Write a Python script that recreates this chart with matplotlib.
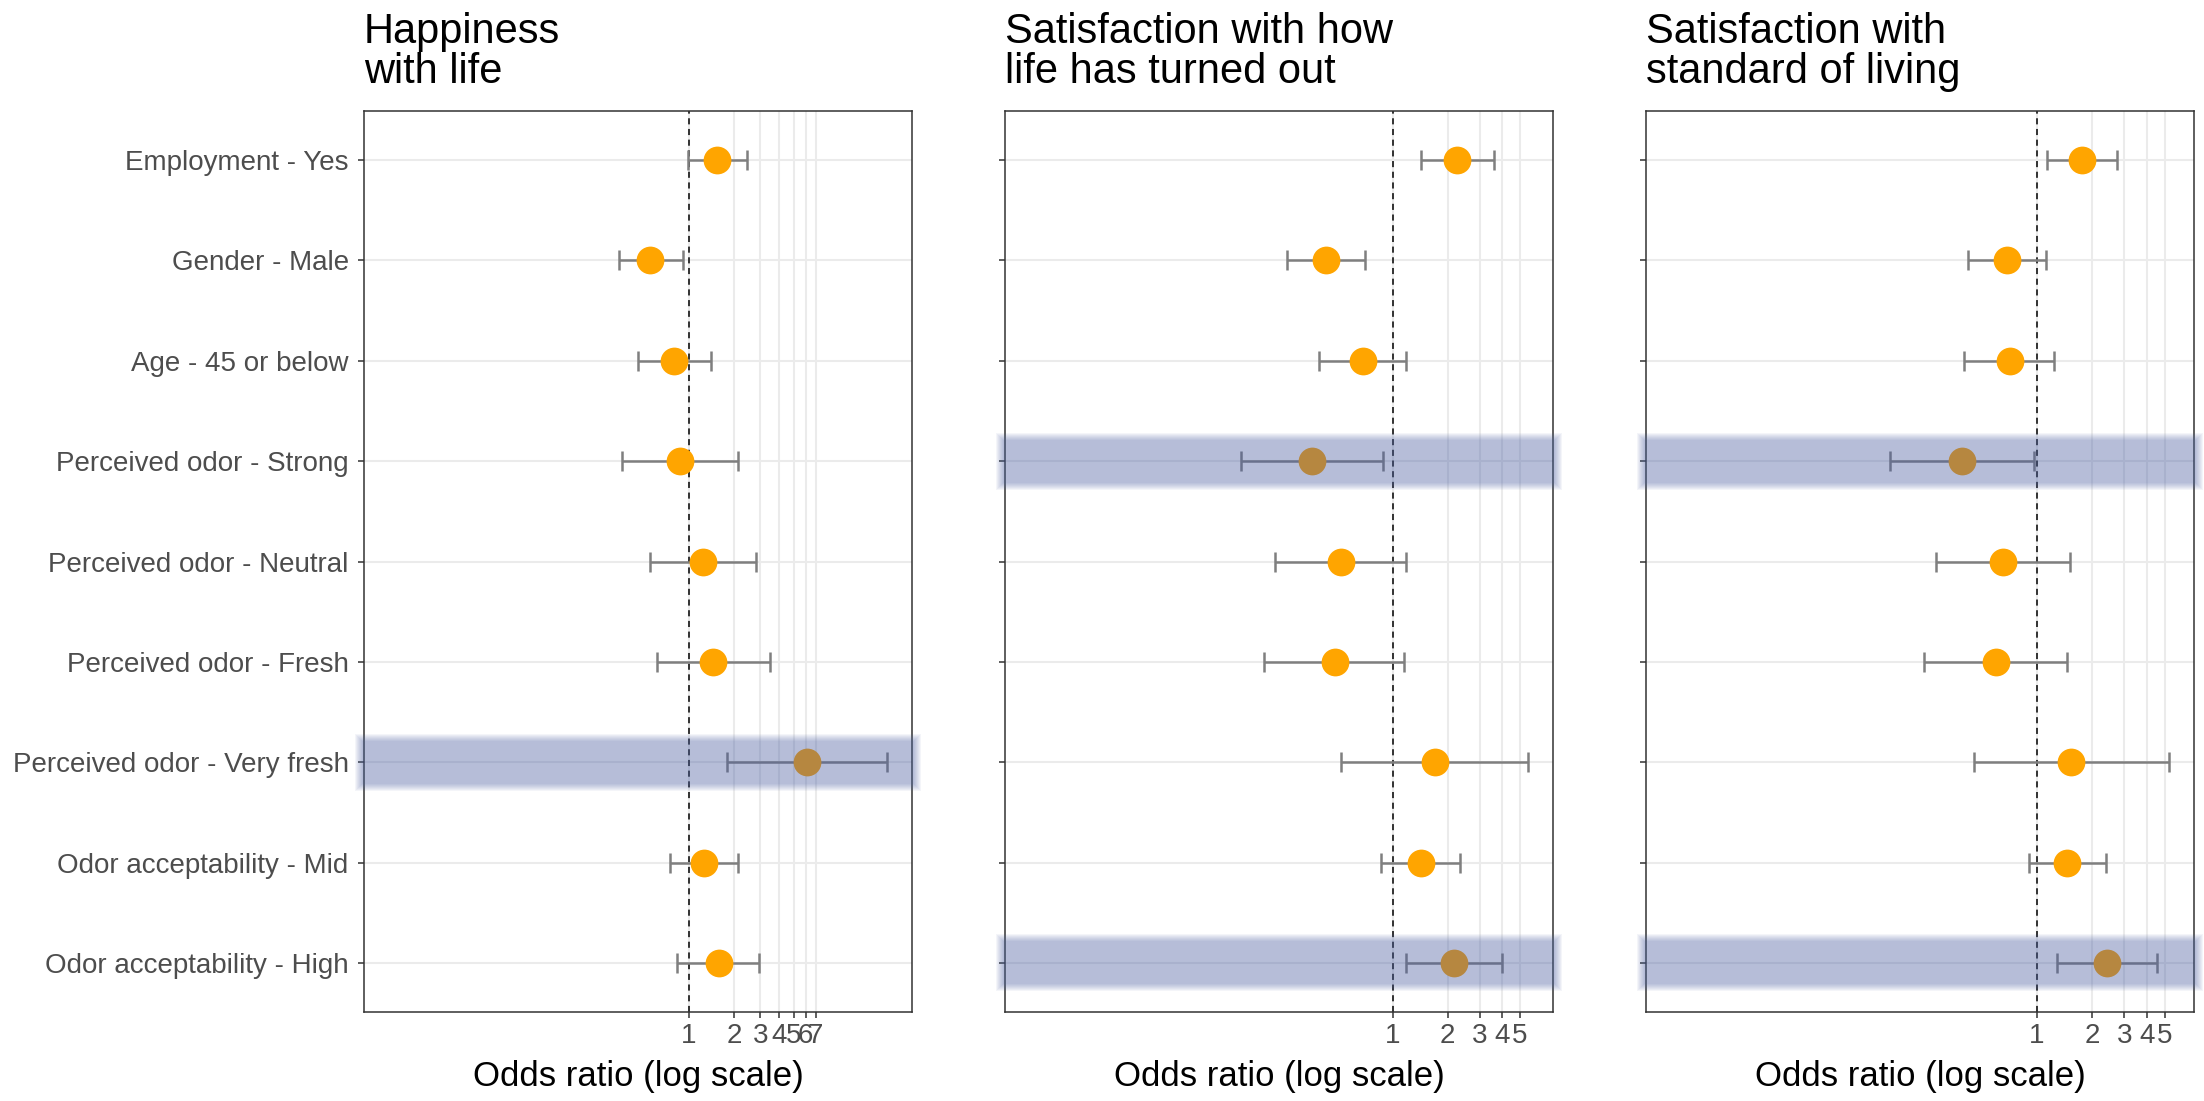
import numpy as np
import matplotlib
matplotlib.use("Agg")
import matplotlib.pyplot as plt
from matplotlib.patches import Rectangle
from matplotlib.ticker import FixedLocator, NullLocator

plt.rcParams['font.family'] = ['Liberation Sans', 'DejaVu Sans']

categories = ["Employment - Yes", "Gender - Male", "Age - 45 or below",
              "Perceived odor - Strong", "Perceived odor - Neutral",
              "Perceived odor - Fresh", "Perceived odor - Very fresh",
              "Odor acceptability - Mid", "Odor acceptability - High"]

titles = ["Happiness\nwith life",
          "Satisfaction with how\nlife has turned out",
          "Satisfaction with\nstandard of living"]

# odds ratios and 95% CI
happy_or = [1.55, 0.55, 0.80, 0.88, 1.25, 1.45, 6.1, 1.27, 1.58]
happy_lo = [0.985, 0.34, 0.46, 0.36, 0.55, 0.61, 1.8, 0.75, 0.84]
happy_hi = [2.44, 0.92, 1.41, 2.13, 2.79, 3.48, 21.0, 2.12, 2.95]

life_or = [2.26, 0.43, 0.68, 0.36, 0.52, 0.48, 1.70, 1.43, 2.16]
life_lo = [1.42, 0.26, 0.39, 0.146, 0.225, 0.196, 0.52, 0.86, 1.18]
life_hi = [3.58, 0.70, 1.18, 0.88, 1.18, 1.155, 5.55, 2.34, 3.99]

living_or = [1.77, 0.69, 0.71, 0.39, 0.65, 0.595, 1.53, 1.46, 2.41]
living_lo = [1.14, 0.42, 0.40, 0.157, 0.28, 0.24, 0.45, 0.90, 1.29]
living_hi = [2.73, 1.12, 1.24, 0.96, 1.51, 1.46, 5.27, 2.39, 4.5]

highlight = [[6], [3, 8], [3, 8]]
x_ticks = [[1, 2, 3, 4, 5, 6, 7], [1, 2, 3, 4, 5], [1, 2, 3, 4, 5]]
x_floor = 0.01  # lower end of the x range in every panel

panels = [(happy_or, happy_lo, happy_hi),
          (life_or, life_lo, life_hi),
          (living_or, living_lo, living_hi)]

band_color = (80 / 255, 100 / 255, 168 / 255)

fig = plt.figure(figsize=(22.04, 11.01), dpi=100)
lefts = [364, 1005, 1646]
W, H = 2204, 1101
ax_w, ax_top, ax_bot = 548, 111, 1012

y = np.arange(len(categories))

for k, (vals, lo, hi) in enumerate(panels):
    ax = fig.add_axes([lefts[k] / W, 1 - ax_bot / H, ax_w / W, (ax_bot - ax_top) / H])
    vals, lo, hi = np.array(vals), np.array(lo), np.array(hi)

    ax.set_xscale('log')
    a, b = np.log10(x_floor), np.log10(hi.max())
    r = b - a
    ax.set_xlim(10 ** (a - 0.05 * r), 10 ** (b + 0.05 * r))
    ax.set_ylim(len(categories) - 0.51, -0.49)

    ax.set_axisbelow(True)
    ax.grid(True, color='#ebebeb', lw=1.5)

    ax.axvline(1, color='black', lw=1.1, ls=(0, (4, 3)), zorder=2)
    ax.errorbar(vals, y, xerr=[vals - lo, hi - vals], fmt='none',
                ecolor='#7f7f7f', elinewidth=1.8, capsize=7, capthick=1.8, zorder=3)
    ax.plot(vals, y, 'o', ms=20, color='#FFA500', mec='none', zorder=4)

    # highlighted rows: soft-edged translucent band
    n = 8
    a_layer = 1 - 0.6 ** (1 / n)
    for row in highlight[k]:
        for i in range(n):
            hh = 0.215 + 0.07 * i / (n - 1)
            ext = 0.004 + 0.012 * i / (n - 1)
            ax.add_patch(Rectangle((-ext, row - hh), 1 + 2 * ext, 2 * hh,
                                   transform=ax.get_yaxis_transform(),
                                   facecolor=band_color, alpha=a_layer, lw=0,
                                   clip_on=False, zorder=5))

    ax.xaxis.set_major_locator(FixedLocator(x_ticks[k]))
    ax.xaxis.set_minor_locator(NullLocator())
    ax.set_xticklabels([str(t) for t in x_ticks[k]])
    ax.set_yticks(y)
    if k == 0:
        ax.set_yticklabels(categories)
    else:
        ax.set_yticklabels([])

    ax.tick_params(axis='both', direction='out', length=4, width=1.1,
                   color='#333333', labelcolor='#4d4d4d', labelsize=20)
    ax.tick_params(axis='y', pad=7)
    ax.tick_params(axis='x', pad=4)

    for s in ax.spines.values():
        s.set_color('#333333')
        s.set_linewidth(1.1)

    ax.set_xlabel("Odds ratio (log scale)", fontsize=25, color='black', labelpad=8)
    ax.set_title(titles[k], loc='left', fontsize=30, color='black',
                 pad=20, linespacing=1.0)

fig.savefig("out.png", dpi=100, facecolor='white')
